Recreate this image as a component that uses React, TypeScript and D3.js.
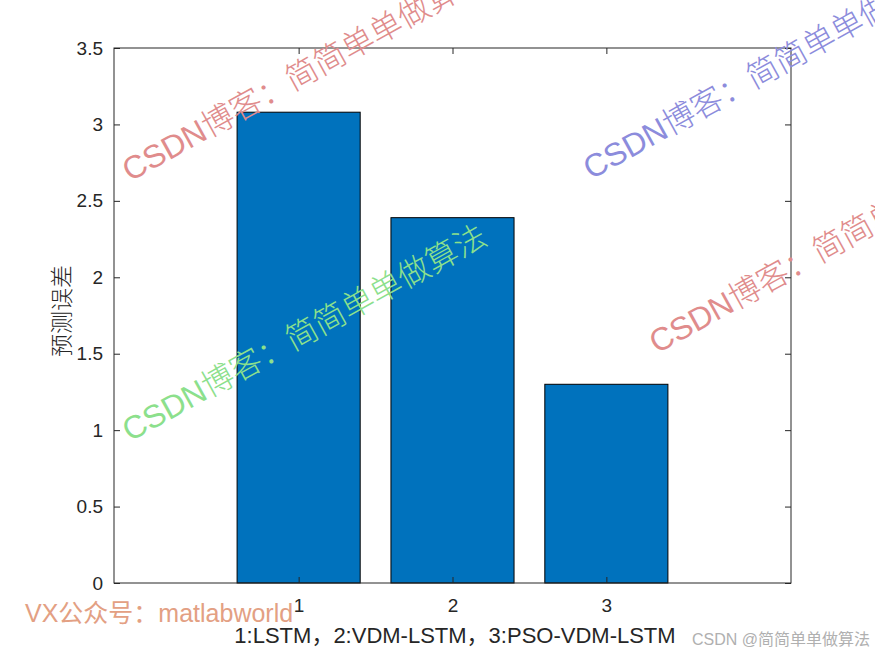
import React, { useEffect, useRef } from "react";
import * as d3 from "d3";

const categories = [1, 2, 3];
const errors = [3.08, 2.39, 1.3];
const yTicks = [0, 0.5, 1, 1.5, 2, 2.5, 3, 3.5];
const xLabel = "1:LSTM，2:VDM-LSTM，3:PSO-VDM-LSTM";
const yLabel = "预测误差";
const markText = "CSDN博客：简简单单做算法";

export default function App() {
  const ref = useRef<SVGSVGElement>(null);

  useEffect(() => {
    if (!ref.current) return;
    const svg = d3.select(ref.current);
    svg.selectAll("*").remove();

    const left = 114, right = 791, top = 48, bottom = 583;
    const x = d3.scaleLinear().domain([-0.2, 4.2]).range([left, right]);
    const y = d3.scaleLinear().domain([0, 3.5]).range([bottom, top]);
    const font = "'Liberation Sans', Arial, 'Noto Sans CJK SC', sans-serif";

    svg.append("rect").attr("width", 875).attr("height", 656).attr("fill", "#fff");

    // bars
    const bw = x(0.8) - x(0);
    svg
      .selectAll("rect.bar")
      .data(categories)
      .enter()
      .append("rect")
      .attr("class", "bar")
      .attr("x", (d) => x(d) - bw / 2)
      .attr("y", (d, i) => y(errors[i]))
      .attr("width", bw)
      .attr("height", (d, i) => bottom - y(errors[i]))
      .attr("fill", "#0072BD")
      .attr("stroke", "#000")
      .attr("stroke-width", 1);

    // axes, MATLAB style ticks inside on all sides
    const tl = -6;
    const ax = svg.append("g");
    ax.append("g")
      .attr("transform", `translate(0,${bottom})`)
      .call(d3.axisBottom(x).tickValues(categories).tickSize(tl).tickPadding(16).tickFormat(d3.format("d")))
      .call((g) => g.select(".domain").remove());
    ax.append("g")
      .attr("transform", `translate(0,${top})`)
      .call(d3.axisTop(x).tickValues(categories).tickSize(tl).tickFormat(() => ""))
      .call((g) => g.select(".domain").remove());
    ax.append("g")
      .attr("transform", `translate(${left},0)`)
      .call(d3.axisLeft(y).tickValues(yTicks).tickSize(tl).tickPadding(11).tickFormat(d3.format("")))
      .call((g) => g.select(".domain").remove());
    ax.append("g")
      .attr("transform", `translate(${right},0)`)
      .call(d3.axisRight(y).tickValues(yTicks).tickSize(tl).tickFormat(() => ""))
      .call((g) => g.select(".domain").remove());
    ax.selectAll("text").attr("fill", "#262626").style("font-family", font).style("font-size", "19px");
    ax.selectAll("line").attr("stroke", "#262626");

    svg.append("rect")
      .attr("x", left).attr("y", top)
      .attr("width", right - left).attr("height", bottom - top)
      .attr("fill", "none").attr("stroke", "#262626").attr("stroke-width", 1);

    svg.append("text")
      .attr("x", 455).attr("y", 643)
      .attr("text-anchor", "middle")
      .style("font-family", font).style("font-size", "22px").attr("fill", "#262626")
      .text(xLabel);

    svg.append("text")
      .attr("transform", `translate(70,311) rotate(-90)`)
      .attr("text-anchor", "middle")
      .style("font-family", "'Noto Sans CJK SC', serif").style("font-size", "23px").attr("fill", "#262626")
      .style("font-weight", "300")
      .text(yLabel);

    // watermarks
    const marks = [
      { x: 130, y: 182, c: "#e08c8c" },
      { x: 591, y: 180, c: "#8c8cdc" },
      { x: 130, y: 442, c: "#8ce08c" },
      { x: 657, y: 354, c: "#e08c8c" },
    ];
    svg.selectAll("text.mark")
      .data(marks)
      .enter()
      .append("text")
      .attr("class", "mark")
      .attr("transform", (d) => `translate(${d.x},${d.y}) rotate(-29)`)
      .style("font-family", font).style("font-size", "32px")
      .style("font-weight", "300")
      .attr("fill", (d) => d.c)
      .text(markText);

    svg.append("text")
      .attr("x", 25).attr("y", 622)
      .style("font-family", font).style("font-size", "25px").attr("fill", "#e3a083")
      .text("VX公众号：matlabworld");

    svg.append("text")
      .attr("x", 692).attr("y", 645)
      .style("font-family", font).style("font-size", "16px").attr("fill", "#b0b0b0")
      .text("CSDN @简简单单做算法");
  }, []);

  return (
    <div style={{ position: "absolute", left: 0, top: 0 }}>
      <svg ref={ref} width={875} height={656}></svg>
    </div>
  );
}
